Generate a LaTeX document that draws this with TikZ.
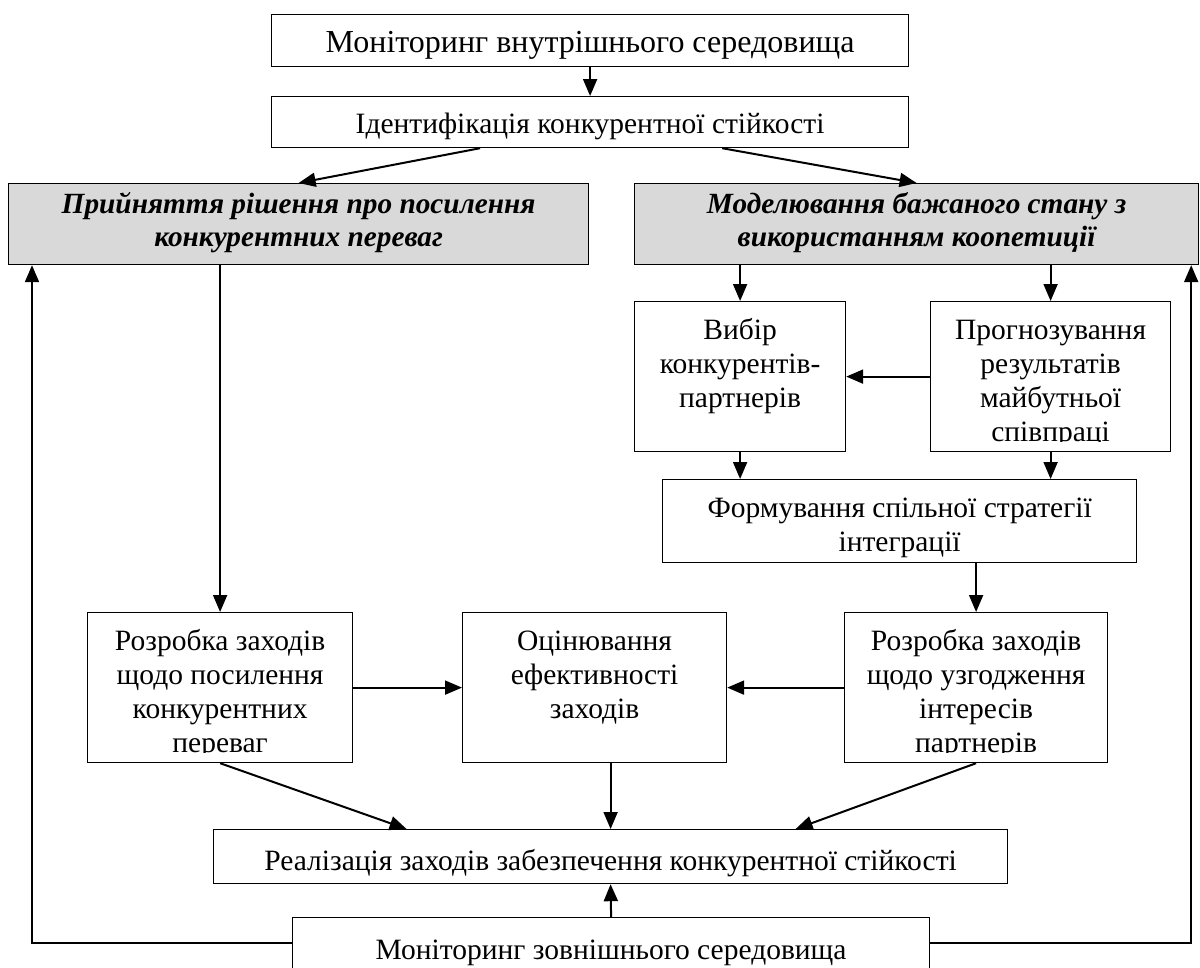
\documentclass[tikz,border=0pt]{standalone}
\usepackage{fontspec}
\setmainfont{Liberation Serif}
\usetikzlibrary{arrows.meta,calc}
\begin{document}
\begin{tikzpicture}[x=1pt,y=-1pt,
  box/.style={draw=black, line width=1.2pt, fill=white, inner sep=0pt, anchor=north west},
  greybox/.style={box, fill=black!15},
  txt/.style={anchor=north, inner sep=0pt, align=center, font=\fontsize{29.5}{34}\selectfont},
  bigtxt/.style={txt, font=\fontsize{32}{34}\selectfont},
  gtxt/.style={anchor=north, inner sep=0pt, align=center, font=\fontsize{29.3}{33}\selectfont\bfseries\itshape},
  conn/.style={line width=2pt, -{Triangle[length=17pt,width=14pt]}},
]
\useasboundingbox (0,0) rectangle (1200,967);
\clip (0,0) rectangle (1200,967);

% boxes
\node[box, minimum width=637pt, minimum height=52pt] (m1) at (271,14) {};
\node[box, minimum width=637pt, minimum height=51pt] (m2) at (271,96) {};
\node[greybox, minimum width=580pt, minimum height=81pt] (g1) at (8,183) {};
\node[greybox, minimum width=564pt, minimum height=81pt] (g2) at (634,183) {};
\node[box, minimum width=211pt, minimum height=150pt] (vyb) at (634,301) {};
\node[box, minimum width=240pt, minimum height=150pt] (prog) at (930,301) {};
\node[box, minimum width=474pt, minimum height=83pt] (form) at (662,479) {};
\node[box, minimum width=265pt, minimum height=150pt] (r1) at (87,612) {};
\node[box, minimum width=264pt, minimum height=150pt] (otsin) at (462,612) {};
\node[box, minimum width=263pt, minimum height=150pt] (r2) at (844,612) {};
\node[box, minimum width=794pt, minimum height=54pt] (real) at (213,829) {};
\node[box, minimum width=637pt, minimum height=54pt] (m3) at (292,917) {};

% texts
\node[bigtxt] (m1t) at ($(m1.north)+(0,14)$) {\strut Моніторинг внутрішнього середовища};
\node[txt] (m2t) at ($(m2.north)+(0,13)$) {\strut Ідентифікація конкурентної стійкості};
\node[gtxt] (g1t) at ($(g1.north)+(0,7)$) {\strut Прийняття рішення про посилення\\конкурентних переваг};
\node[gtxt] (g2t) at ($(g2.north)+(0,7)$) {\strut Моделювання бажаного стану з\\використанням коопетиції};
\node[txt] (vybt) at ($(vyb.north)+(0,14)$) {\strut Вибір\\конкурентів-\\партнерів};
\begin{scope}
\clip (prog.north west) rectangle ($(prog.south east)+(0,-11)$);
\node[txt] (progt) at ($(prog.north)+(0,14)$) {\strut Прогнозування\\результатів\\майбутньої\\співпраці};
\end{scope}
\node[txt] (formt) at ($(form.north)+(0,14)$) {\strut Формування спільної стратегії\\інтеграції};
\begin{scope}
\clip (r1.north west) rectangle ($(r1.south east)+(0,-11)$);
\node[txt] (r1t) at ($(r1.north)+(0,14)$) {\strut Розробка заходів\\щодо посилення\\конкурентних\\переваг};
\end{scope}
\node[txt] (otsint) at ($(otsin.north)+(0,14)$) {\strut Оцінювання\\ефективності\\заходів};
\begin{scope}
\clip (r2.north west) rectangle ($(r2.south east)+(0,-11)$);
\node[txt] (r2t) at ($(r2.north)+(0,14)$) {\strut Розробка заходів\\щодо узгодження\\інтересів\\партнерів};
\end{scope}
\node[txt] (realt) at ($(real.north)+(0,17)$) {\strut Реалізація заходів забезпечення конкурентної стійкості};
\node[txt] (m3t) at ($(m3.north)+(0,18)$) {\strut Моніторинг зовнішнього середовища};

% connectors
\draw[conn] (m1.south) -- (m2.north);
\draw[conn] ($(m2.south)+(-110,0)$) -- (g1.north);
\draw[conn] ($(m2.south)+(132,0)$) -- (g2.north);
\draw[conn] (r1.north |- g1.south) -- (r1.north);
\draw[conn] (vyb.north |- g2.south) -- (vyb.north);
\draw[conn] (prog.north |- g2.south) -- (prog.north);
\draw[conn] (prog.west) -- (vyb.east);
\draw[conn] (vyb.south) -- (vyb.south |- form.north);
\draw[conn] (prog.south) -- (prog.south |- form.north);
\draw[conn] (r2.north |- form.south) -- (r2.north);
\draw[conn] (r1.east) -- (otsin.west);
\draw[conn] (r2.west) -- (otsin.east);
\draw[conn] (r1.south) -- ($(real.north)+(-204,0)$);
\draw[conn] (real.north |- otsin.south) -- (real.north);
\draw[conn] (r2.south) -- ($(real.north)+(185,0)$);
\draw[conn] (m3.north) -- (real.south);
\draw[conn] ($(m3.north west)+(0,26)$) -| ($(g1.south west)+(24,0)$);
\draw[conn] ($(m3.north east)+(0,26)$) -| ($(g2.south east)+(-8,0)$);
\end{tikzpicture}
\end{document}
